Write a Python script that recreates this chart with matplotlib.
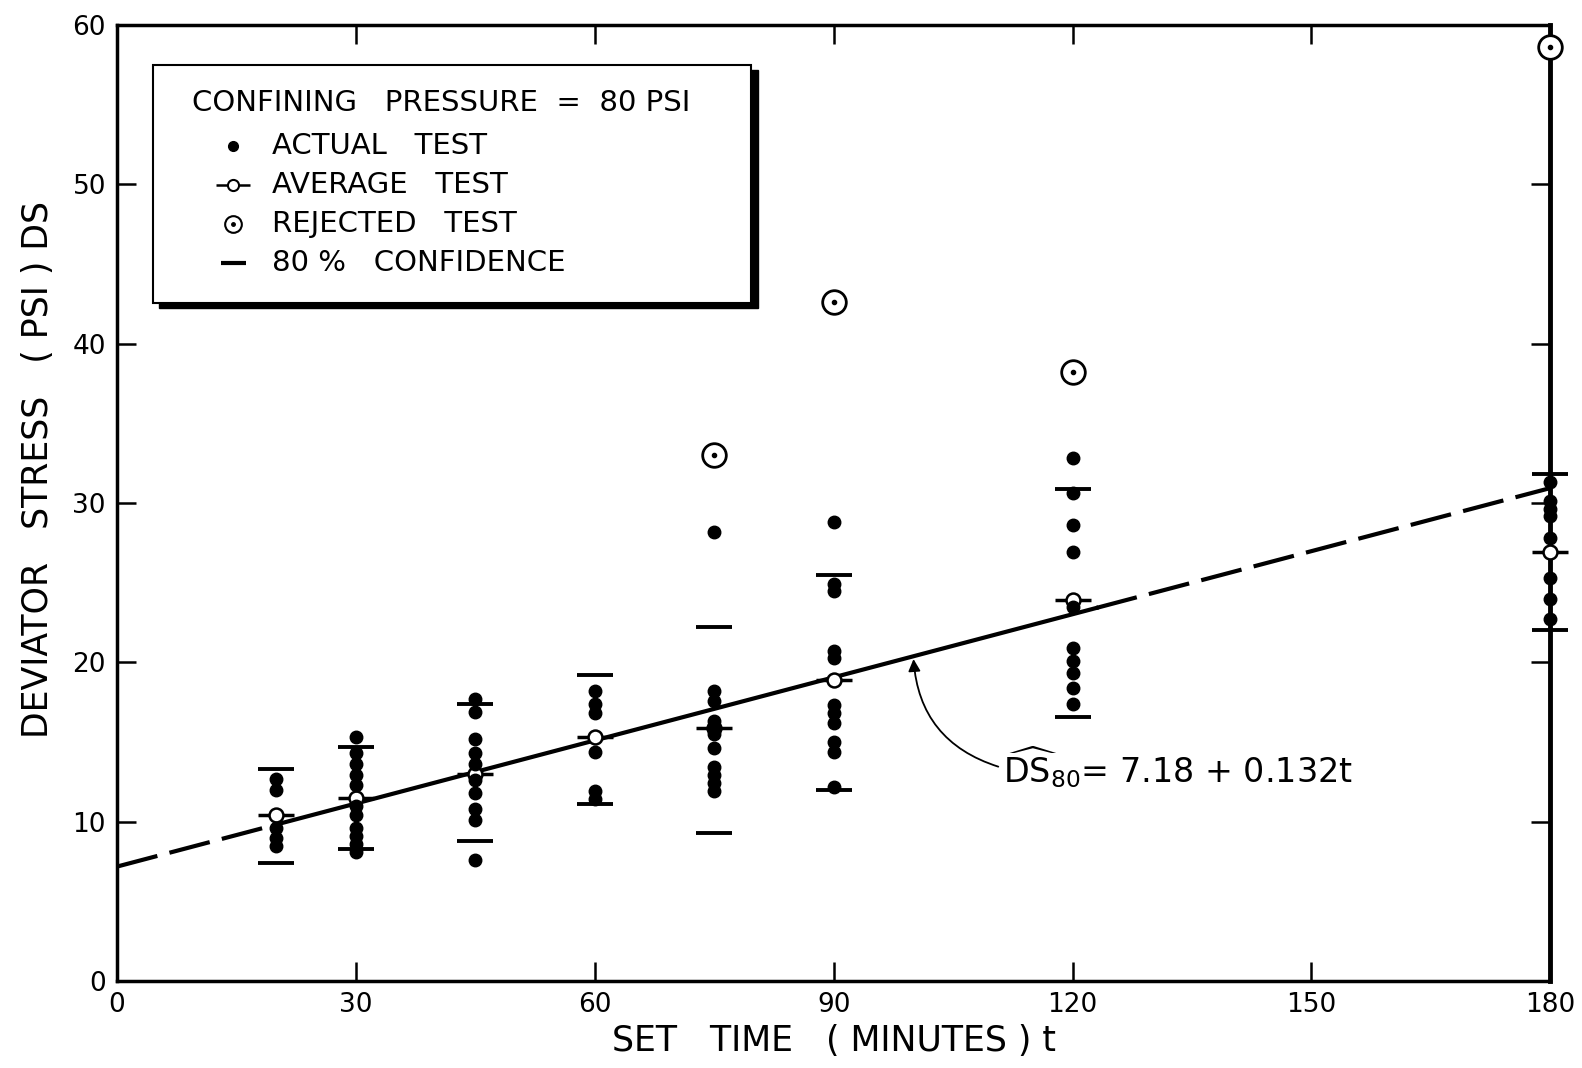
import numpy as np
import matplotlib.pyplot as plt
from matplotlib.patches import Rectangle

plt.rcParams['font.family'] = "DejaVu Sans"
plt.rcParams['mathtext.fontset'] = "dejavusans"

# set times (minutes)
times = [20, 30, 45, 60, 75, 90, 120, 180]

# actual tests, deviator stress (psi), one list per set time
act_20 = [12.7, 12.0, 9.6, 9.0, 8.5]
act_30 = [15.3, 14.3, 13.6, 12.9, 12.3, 11.0, 10.4, 9.6, 9.1, 8.6, 8.1]
act_45 = [17.7, 16.9, 15.2, 14.3, 13.6, 12.6, 11.8, 10.8, 10.1, 7.6]
act_60 = [18.2, 17.4, 16.8, 14.4, 11.9, 11.4]
act_75 = [28.2, 18.2, 17.6, 16.3, 15.9, 15.5, 14.6, 13.4, 12.9, 12.4, 11.9]
act_90 = [28.8, 24.9, 24.5, 20.7, 20.3, 17.3, 16.8, 16.2, 15.0, 14.4, 12.2]
act_120 = [32.8, 30.6, 28.6, 26.9, 23.5, 20.9, 20.1, 19.3, 18.4, 17.4]
act_180 = [31.3, 30.1, 29.6, 29.2, 27.8, 25.3, 24.0, 22.7]
actual = [act_20, act_30, act_45, act_60, act_75, act_90, act_120, act_180]

# averages and 80 % confidence limits
average = [10.4, 11.5, 13.0, 15.3, 15.9, 18.9, 23.9, 26.9]
conf_hi = [13.3, 14.7, 17.4, 19.2, 22.2, 25.5, 30.9, 31.8]
conf_lo = [7.4, 8.3, 8.8, 11.1, 9.3, 12.0, 16.6, 22.0]

# rejected tests
rej_t = [75, 90, 120, 180]
rej_ds = [33.0, 42.6, 38.2, 58.6]

# regression DS80 = 7.18 + 0.132 t
b0, b1 = 7.18, 0.132
t_dash1 = [0, 20]
t_solid = [20, 123]
t_dash2 = [123, 180]

fig = plt.figure(figsize=[15.82, 10.68], dpi=100)
ax = fig.add_axes([0.074, 0.0815, 0.906, 0.895])

# regression line
for seg, ls in [(t_dash1, (0, (10, 3))), (t_solid, '-'), (t_dash2, (0, (10, 3)))]:
    seg = np.array(seg, dtype=float)
    ax.plot(seg, b0 + b1*seg, color='k', lw=3, linestyle=ls, zorder=2)

# confidence limits
ax.plot(times, conf_hi, ls='none', marker='_', ms=26, mew=2.8, color='k', zorder=3, clip_on=False)
ax.plot(times, conf_lo, ls='none', marker='_', ms=26, mew=2.8, color='k', zorder=3, clip_on=False)

# average
ax.plot(times, average, ls='none', marker='_', ms=26, mew=2.5, color='k', zorder=3, clip_on=False)
ax.plot(times, average, ls='none', marker='o', ms=10, mew=1.8, mfc='white', mec='k',
        zorder=4, clip_on=False)

# actual tests
for t, vals in zip(times, actual):
    ax.plot([t]*len(vals), vals, ls='none', marker='o', ms=9, color='k', zorder=5, clip_on=False)

# rejected tests
ax.plot(rej_t, rej_ds, ls='none', marker='o', ms=17, mew=2, mfc='white', mec='k',
        zorder=5, clip_on=False)
ax.plot(rej_t, rej_ds, ls='none', marker='o', ms=3, color='k', zorder=6, clip_on=False)

# equation annotation
ax.annotate('', xy=(100, b0 + b1*100), xytext=(111.0, 13.4),
            arrowprops=dict(arrowstyle='-|>', connectionstyle='arc3,rad=-0.35',
                            lw=1.3, color='k', mutation_scale=18), zorder=6)
ax.text(111.3, 13.4, r'$\widehat{\mathrm{DS}}_{80}$= 7.18 + 0.132t', fontsize=24,
        ha='left', va='center')

# legend box
ax.add_patch(Rectangle((0.029, 0.704), 0.418, 0.249, transform=ax.transAxes,
                       facecolor='k', edgecolor='k', zorder=7))
ax.add_patch(Rectangle((0.0253, 0.7096), 0.4173, 0.2484, transform=ax.transAxes,
                       facecolor='white', edgecolor='k', lw=1.5, zorder=8))
ax.text(0.052, 0.919, 'CONFINING   PRESSURE  =  80 PSI', transform=ax.transAxes,
        fontsize=21, va='center', ha='left', zorder=9)
items = ['ACTUAL   TEST', 'AVERAGE   TEST', 'REJECTED   TEST', '80 %   CONFIDENCE']
item_y = [0.874, 0.833, 0.792, 0.751]
for lab, yy in zip(items, item_y):
    ax.text(0.108, yy, lab, transform=ax.transAxes, fontsize=21, va='center',
            ha='left', zorder=9)
mx = 0.081
ax.plot([mx], [item_y[0]], transform=ax.transAxes, marker='o', ms=7, color='k', zorder=9)
ax.plot([mx], [item_y[1]], transform=ax.transAxes, marker='_', ms=24, mew=1.8, color='k', zorder=9)
ax.plot([mx], [item_y[1]], transform=ax.transAxes, marker='o', ms=8, mew=1.5,
        mfc='white', mec='k', zorder=10)
ax.plot([mx], [item_y[2]], transform=ax.transAxes, marker='o', ms=12, mew=1.5,
        mfc='white', mec='k', zorder=9)
ax.plot([mx], [item_y[2]], transform=ax.transAxes, marker='o', ms=2.5, color='k', zorder=10)
ax.plot([mx], [item_y[3]], transform=ax.transAxes, marker='_', ms=18, mew=3, color='k', zorder=9)

# axes
ax.set_xlim(0, 180)
ax.set_ylim(0, 60)
ax.set_xticks(np.arange(0, 181, 30))
ax.set_yticks(np.arange(0, 61, 10))
ax.tick_params(direction='in', length=14, width=1.8, labelsize=19,
               top=True, right=True, pad=8)
for s in ax.spines.values():
    s.set_linewidth(2.5)
ax.spines['right'].set_linewidth(3.5)

ax.set_xlabel('SET   TIME   ( MINUTES ) t', fontsize=25, labelpad=4)
ax.set_ylabel('DEVIATOR   STRESS   ( PSI ) DS', fontsize=25)
ax.yaxis.set_label_coords(-0.043, 0.535)

fig.savefig('out.png', dpi=100)
